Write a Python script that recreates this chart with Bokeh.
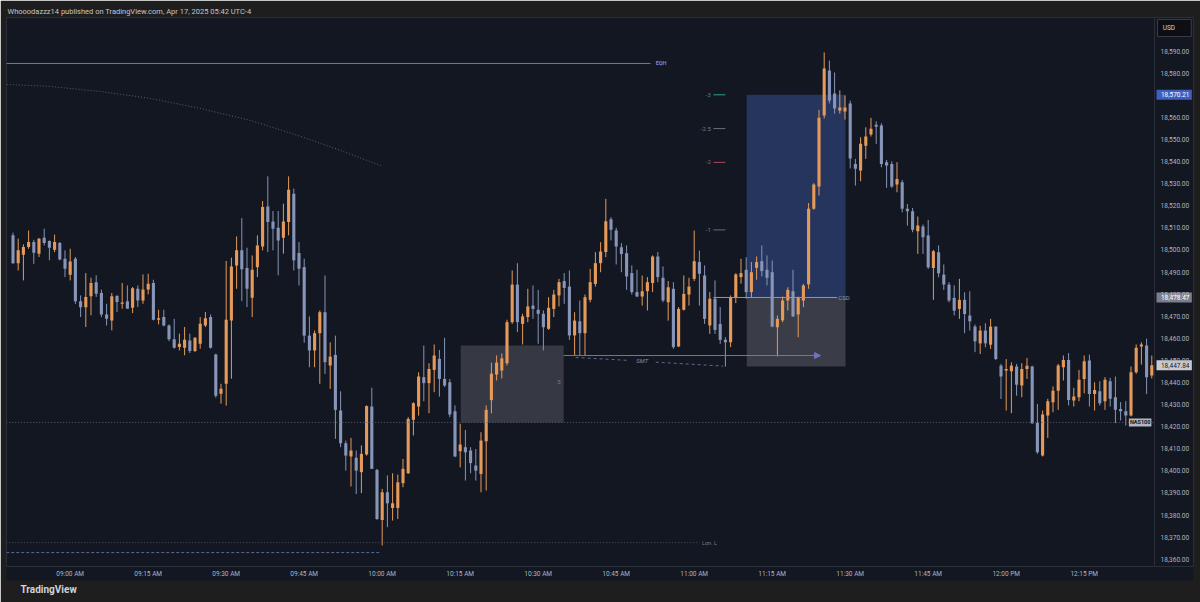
from bokeh.plotting import figure
from bokeh.models import (ColumnDataSource, Range1d, FixedTicker, NumeralTickFormatter,
                          Label, Arrow, NormalHead, Span, Title)
from bokeh.embed import file_html
from bokeh.resources import INLINE

# ---------------- data (1-minute NAS100 candles, first bar = 08:49) ----------------
opens = [18506.6, 18494.0, 18497.8, 18501.3, 18503.6, 18498.3, 18505.5, 18504.0, 18500.1, 18503.1,
         18496.0, 18488.8, 18496.0, 18476.8, 18474.1, 18479.0, 18485.4, 18480.5, 18470.8, 18468.1,
         18479.3, 18475.6, 18476.8, 18473.8, 18482.4, 18477.1, 18482.1, 18485.0, 18468.4, 18469.6,
         18465.8, 18459.6, 18456.0, 18455.7, 18459.0, 18454.2, 18457.5, 18465.8, 18469.6, 18452.7,
         18434.9, 18439.4, 18468.1, 18493.0, 18499.8, 18491.8, 18478.4, 18492.2, 18501.6, 18519.7,
         18512.9, 18510.0, 18505.5, 18512.6, 18525.4, 18498.6, 18492.2, 18461.2, 18454.5, 18462.3,
         18471.8, 18447.7, 18452.5, 18427.3, 18412.5, 18406.5, 18405.9, 18399.4, 18407.4, 18429.1,
         18400.4, 18377.8, 18390.3, 18383.2, 18383.2, 18394.4, 18398.9, 18423.1, 18429.1, 18442.4,
         18439.7, 18445.7, 18450.7, 18441.6, 18440.1, 18427.0, 18408.9, 18410.7, 18409.2, 18402.4,
         18398.6, 18413.4, 18432.0, 18443.6, 18445.4, 18448.7, 18467.3, 18484.3, 18466.5, 18469.6,
         18474.8, 18472.9, 18471.1, 18464.3, 18473.3, 18479.4, 18485.9, 18483.4, 18461.3, 18467.7,
         18462.3, 18477.4, 18484.6, 18494.0, 18499.0, 18513.9, 18508.8, 18501.2, 18498.5, 18489.5,
         18480.9, 18478.9, 18481.3, 18485.0, 18497.0, 18487.4, 18476.3, 18482.4, 18456.3, 18472.9,
         18479.8, 18486.9, 18494.5, 18488.4, 18465.8, 18477.9, 18466.5, 18459.3, 18458.2, 18478.6,
         18487.7, 18491.0, 18480.9, 18491.9, 18494.9, 18491.0, 18489.9, 18465.0, 18468.1, 18477.1,
         18481.3, 18470.8, 18477.1, 18484.4, 18518.6, 18528.7, 18560.8, 18581.2, 18570.8, 18563.1,
         18562.7, 18566.3, 18538.9, 18535.9, 18547.2, 18552.2, 18556.6, 18556.3, 18539.7, 18538.9,
         18529.6, 18530.6, 18518.6, 18517.5, 18508.4, 18510.6, 18506.5, 18491.8, 18498.9, 18488.8,
         18484.3, 18478.3, 18473.3, 18477.4, 18470.3, 18465.3, 18457.7, 18463.5, 18457.1, 18465.3,
         18447.6, 18445.4, 18445.1, 18447.2, 18438.6, 18446.1, 18447.2, 18421.6, 18406.9, 18425.0,
         18431.1, 18436.3, 18446.9, 18450.2, 18431.8, 18433.3, 18441.6, 18449.9, 18434.8, 18436.0,
         18431.5, 18440.6, 18433.3, 18428.0, 18427.0, 18425.0, 18444.6, 18456.3, 18456.7, 18443.2]
highs = [18507.8, 18505.1, 18502.5, 18508.8, 18504.6, 18505.4, 18509.6, 18504.3, 18506.9, 18503.6,
         18499.8, 18500.5, 18496.8, 18479.4, 18489.5, 18487.4, 18488.5, 18482.0, 18475.6, 18480.5,
         18479.3, 18485.0, 18483.9, 18483.2, 18483.9, 18488.9, 18489.2, 18486.5, 18472.9, 18472.9,
         18466.3, 18468.8, 18462.1, 18465.1, 18462.1, 18460.5, 18469.6, 18471.9, 18470.8, 18453.0,
         18439.4, 18495.0, 18496.5, 18506.1, 18514.4, 18501.0, 18497.5, 18506.6, 18522.1, 18533.3,
         18517.6, 18517.6, 18520.9, 18533.3, 18527.7, 18503.6, 18496.0, 18469.9, 18463.5, 18472.6,
         18488.4, 18458.2, 18461.2, 18436.0, 18413.7, 18414.9, 18409.2, 18411.5, 18429.6, 18437.6,
         18400.9, 18391.8, 18397.9, 18398.9, 18398.3, 18405.4, 18424.3, 18431.1, 18444.6, 18456.7,
         18448.7, 18457.2, 18454.7, 18460.2, 18441.6, 18429.6, 18421.3, 18418.5, 18410.7, 18409.9,
         18417.5, 18429.6, 18449.0, 18452.2, 18453.1, 18468.4, 18490.7, 18494.0, 18471.1, 18482.4,
         18483.9, 18481.9, 18472.6, 18478.6, 18481.9, 18486.9, 18489.5, 18490.7, 18471.8, 18477.1,
         18479.8, 18491.4, 18499.0, 18503.5, 18523.1, 18514.8, 18510.0, 18503.1, 18502.0, 18493.0,
         18491.0, 18488.4, 18487.7, 18497.5, 18499.0, 18492.5, 18485.9, 18485.4, 18474.1, 18488.4,
         18487.4, 18508.8, 18499.7, 18493.0, 18480.9, 18486.2, 18474.1, 18460.5, 18479.4, 18489.5,
         18496.0, 18496.7, 18494.5, 18497.0, 18502.0, 18497.5, 18495.2, 18470.3, 18478.9, 18483.1,
         18491.0, 18478.9, 18484.6, 18521.2, 18530.2, 18563.4, 18589.4, 18585.7, 18580.3, 18572.2,
         18569.9, 18567.6, 18541.2, 18551.0, 18555.5, 18559.8, 18558.2, 18557.3, 18540.7, 18540.1,
         18539.7, 18531.7, 18520.8, 18519.0, 18515.1, 18511.5, 18513.6, 18500.0, 18502.0, 18493.4,
         18485.4, 18483.9, 18486.9, 18480.8, 18481.3, 18466.2, 18465.7, 18466.8, 18468.8, 18465.3,
         18448.4, 18450.6, 18449.1, 18448.4, 18448.7, 18451.1, 18447.6, 18430.3, 18427.3, 18432.6,
         18438.2, 18448.4, 18452.2, 18453.3, 18437.6, 18445.7, 18452.2, 18452.6, 18440.1, 18440.6,
         18442.4, 18442.1, 18442.7, 18431.1, 18431.5, 18447.2, 18457.2, 18458.2, 18459.8, 18452.2]
lows = [18493.7, 18490.7, 18486.2, 18500.5, 18493.7, 18496.8, 18502.0, 18495.3, 18499.0, 18495.3,
        18487.7, 18486.2, 18475.6, 18469.6, 18465.1, 18470.4, 18478.7, 18469.6, 18465.8, 18463.6,
        18471.9, 18473.4, 18473.4, 18471.4, 18474.1, 18475.6, 18479.9, 18468.1, 18466.3, 18465.4,
        18458.7, 18455.3, 18454.5, 18452.3, 18453.3, 18453.8, 18455.3, 18465.1, 18455.3, 18433.1,
        18430.4, 18429.5, 18441.7, 18482.4, 18476.8, 18474.1, 18469.6, 18487.7, 18499.8, 18499.0,
        18499.8, 18488.5, 18498.3, 18506.6, 18490.7, 18483.9, 18458.0, 18446.9, 18446.9, 18439.4,
        18443.9, 18437.1, 18414.5, 18410.7, 18400.1, 18392.9, 18389.5, 18389.9, 18406.9, 18400.9,
        18377.8, 18366.2, 18374.5, 18377.5, 18378.2, 18392.6, 18398.6, 18416.0, 18425.0, 18431.5,
        18426.1, 18435.6, 18433.6, 18437.9, 18424.3, 18406.2, 18401.6, 18395.6, 18398.9, 18395.6,
        18390.3, 18391.1, 18426.0, 18440.9, 18441.8, 18447.7, 18466.5, 18462.8, 18457.2, 18467.3,
        18468.8, 18457.5, 18454.5, 18463.8, 18469.6, 18474.4, 18475.6, 18459.3, 18452.2, 18452.2,
        18452.2, 18476.3, 18483.4, 18489.9, 18496.7, 18504.3, 18493.4, 18489.9, 18481.9, 18479.8,
        18478.6, 18474.8, 18472.6, 18480.9, 18485.4, 18476.3, 18468.0, 18455.2, 18456.0, 18472.6,
        18474.8, 18485.9, 18474.8, 18466.5, 18462.0, 18462.0, 18457.5, 18447.2, 18456.0, 18475.9,
        18484.7, 18477.9, 18478.3, 18486.5, 18488.0, 18483.9, 18465.0, 18451.8, 18467.3, 18472.6,
        18469.6, 18460.5, 18474.1, 18482.4, 18518.2, 18524.6, 18559.5, 18566.3, 18561.7, 18561.7,
        18559.0, 18536.9, 18529.1, 18531.1, 18541.2, 18551.3, 18548.0, 18537.4, 18528.1, 18528.1,
        18526.1, 18517.0, 18511.0, 18508.0, 18498.2, 18498.2, 18491.4, 18477.4, 18487.6, 18481.9,
        18476.3, 18470.3, 18468.8, 18462.3, 18463.5, 18453.7, 18452.9, 18455.9, 18455.2, 18450.2,
        18432.5, 18427.3, 18426.1, 18434.0, 18433.3, 18441.6, 18421.2, 18407.7, 18406.5, 18414.9,
        18426.5, 18427.6, 18440.9, 18429.6, 18429.1, 18431.5, 18435.1, 18429.1, 18427.3, 18429.6,
        18427.6, 18429.1, 18421.6, 18422.8, 18420.5, 18424.6, 18443.9, 18448.1, 18434.8, 18441.8]
closes = [18494.0, 18499.8, 18501.3, 18503.6, 18498.7, 18505.1, 18503.1, 18501.0, 18503.6, 18495.7,
          18491.5, 18494.8, 18476.8, 18474.1, 18478.7, 18485.0, 18480.2, 18470.8, 18468.8, 18479.0,
          18476.4, 18476.2, 18473.4, 18482.6, 18477.1, 18482.1, 18484.7, 18468.4, 18469.1, 18465.8,
          18459.6, 18455.7, 18457.5, 18459.3, 18454.2, 18460.2, 18466.6, 18469.1, 18455.7, 18434.0,
          18437.2, 18468.4, 18492.5, 18499.8, 18491.2, 18482.4, 18491.0, 18502.0, 18519.4, 18512.6,
          18509.6, 18504.3, 18512.9, 18527.2, 18495.3, 18491.5, 18461.2, 18454.5, 18462.3, 18471.8,
          18449.2, 18451.7, 18427.6, 18412.5, 18406.9, 18409.2, 18400.1, 18407.7, 18429.3, 18400.9,
          18378.2, 18390.3, 18385.3, 18385.3, 18394.8, 18400.9, 18423.5, 18430.6, 18442.7, 18439.7,
          18446.1, 18452.2, 18441.6, 18438.6, 18425.5, 18406.5, 18411.9, 18408.4, 18403.5, 18400.1,
          18413.7, 18427.6, 18444.0, 18449.0, 18450.9, 18467.3, 18484.3, 18467.3, 18469.9, 18474.4,
          18473.3, 18471.1, 18465.0, 18473.8, 18479.8, 18485.4, 18482.8, 18461.3, 18468.0, 18462.3,
          18478.6, 18485.4, 18494.0, 18499.3, 18513.0, 18509.1, 18501.5, 18498.2, 18488.0, 18480.9,
          18478.9, 18481.3, 18485.4, 18497.0, 18487.7, 18477.1, 18483.1, 18456.0, 18473.3, 18480.1,
          18483.4, 18494.9, 18489.2, 18468.8, 18477.9, 18463.8, 18459.3, 18458.2, 18478.6, 18488.9,
          18489.5, 18480.9, 18489.9, 18494.5, 18490.4, 18487.4, 18465.3, 18468.8, 18477.1, 18481.9,
          18469.9, 18478.3, 18483.9, 18518.6, 18529.6, 18559.8, 18582.1, 18567.6, 18564.0, 18564.5,
          18564.5, 18541.4, 18536.7, 18548.0, 18551.3, 18554.8, 18555.8, 18538.9, 18538.2, 18528.7,
          18532.1, 18518.6, 18517.5, 18509.1, 18511.0, 18505.7, 18492.1, 18499.4, 18489.4, 18484.3,
          18477.1, 18472.5, 18477.4, 18471.0, 18467.7, 18458.6, 18463.5, 18457.7, 18465.3, 18450.6,
          18442.7, 18446.1, 18447.6, 18439.0, 18446.1, 18447.6, 18421.5, 18408.4, 18425.5, 18431.5,
          18436.3, 18447.7, 18450.2, 18432.1, 18433.6, 18441.2, 18449.6, 18434.8, 18436.6, 18430.6,
          18441.2, 18432.6, 18427.6, 18427.0, 18425.0, 18444.6, 18455.7, 18457.2, 18442.4, 18447.84]

time_labels = ["09:00 AM", "09:15 AM", "09:30 AM", "09:45 AM", "10:00 AM", "10:15 AM", "10:30 AM",
               "10:45 AM", "11:00 AM", "11:15 AM", "11:30 AM", "11:45 AM", "12:00 PM", "12:15 PM"]
time_label_bars = [11, 26, 41, 56, 71, 86, 101, 116, 131, 146, 161, 176, 191, 206]
price_ticks = list(range(18360, 18600, 10))

# drawn levels
eqh_price = 18584.4
csd_price = 18478.47
target_price = 18570.21
stop_price = 18447.2
last_price = 18447.84
nas_line_price = 18421.9
fvg_top, fvg_bottom = 18456.7, 18421.9
smt_price = 18452.2
smt_dash_prices = [18451.3, 18447.4]
lon_low_price = 18367.5
low_dash_price = 18363.0
fib_names = ["-1", "-2", "-2.5", "-3"]
fib_prices = [18509.05, 18539.63, 18554.92, 18570.21]
curve_bars = [-1.2, 7.2, 16.8, 26.4, 36.1, 45.7, 55.3, 63.0, 70.7]
curve_prices = [18574.9, 18574.0, 18571.7, 18568.6, 18564.0, 18558.6, 18551.4, 18545.0, 18538.2]

tag_texts = ["18,570.21", "18,478.47", "18,447.84"]
tag_prices = [target_price, csd_price, last_price]
tag_fills = ["#3f5fbf", "#7c7f89", "#c9cbd1"]
tag_text_colors = ["#ffffff", "#ffffff", "#131722"]

header_text = "Whooodazzz14 published on TradingView.com, Apr 17, 2025 05:42 UTC-4"

# ---------------- style ----------------
BG = "#131722"
FRAME = "#1e1e1e"
UP = "#e59a5a"
DOWN = "#8795b8"
TXT = "#b2b5be"
FONT = "Roboto"
AXIS_EDGE = 219.52          # bar-axis position of the price-scale separator
PRICE_PAD = 2.26            # half height of a price tag, in price units

n = len(opens)
bars = list(range(n))
colors = [UP if c >= o else DOWN for o, c in zip(opens, closes)]
tops = [max(o, c) for o, c in zip(opens, closes)]
bots = [min(o, c) for o, c in zip(opens, closes)]
tops = [t if t - b >= 0.35 else b + 0.35 for t, b in zip(tops, bots)]
src = ColumnDataSource(dict(x=bars, top=tops, bottom=bots, high=highs, low=lows, color=colors))

p = figure(width=1200, height=602, output_backend="svg", toolbar_location=None,
           x_range=Range1d(-1.25, 227.02), y_range=Range1d(18356.7, 18605.2),
           y_axis_location="right", min_border_left=6, min_border_right=7,
           min_border_top=17, min_border_bottom=36,
           background_fill_color=BG, border_fill_color=FRAME,
           outline_line_color="#2a2e39")
p.grid.visible = False

# header as the title
p.title.text = header_text
p.title.align = "left"
p.title.text_font_size = "7.5px"
p.title.text_font = FONT
p.title.text_font_style = "normal"
p.title.text_color = "#c3c6ce"
p.title.standoff = 4
p.title.offset = 1

# footer
p.add_layout(Title(text="TradingView", align="left", text_font_size="10px", text_font=FONT,
                   text_font_style="bold", text_color="#d1d4dc", standoff=2, offset=14), "below")

# axes
yax = p.yaxis[0]
yax.ticker = FixedTicker(ticks=price_ticks)
yax.formatter = NumeralTickFormatter(format="0,0.00")
yax.major_label_overrides = {18570: ""}
xax = p.xaxis[0]
xax.ticker = FixedTicker(ticks=time_label_bars)
xax.major_label_overrides = {b: t for b, t in zip(time_label_bars, time_labels)}
for ax in (xax, yax):
    ax.major_tick_line_color = None
    ax.minor_tick_line_color = None
    ax.major_tick_out = 0
    ax.major_tick_in = 0
    ax.axis_line_color = "#2a2e39"
    ax.major_label_text_color = TXT
    ax.major_label_text_font_size = "6.5px"
    ax.major_label_text_font = FONT
    if "background_fill_color" in ax.properties():
        ax.background_fill_color = BG
yax.major_label_standoff = -33
xax.major_label_standoff = 3

# price-scale separator
p.add_layout(Span(location=AXIS_EDGE, dimension="height", line_color="#2a2e39", line_width=1))

# boxes
p.quad(left=[86.1], right=[105.9], bottom=[fvg_bottom], top=[fvg_top],
       fill_color="#363943", line_color=None)
p.quad(left=[141.1], right=[160.1], bottom=[csd_price], top=[target_price],
       fill_color="#26355e", line_color=None)
p.quad(left=[141.1], right=[160.1], bottom=[stop_price], top=[csd_price],
       fill_color="#3a3d47", line_color=None)

# candles
p.segment(x0="x", y0="low", x1="x", y1="high", color="color", line_width=1, source=src)
p.vbar(x="x", width=0.6, top="top", bottom="bottom", fill_color="color", line_color=None, source=src)

# lines
p.line([-1.3, 122.6], [eqh_price, eqh_price], line_color="#6f74c8", line_width=1)
p.line(curve_bars, curve_prices, line_color="#5d606b", line_width=1, line_dash="1 2")
p.line([-1.3, AXIS_EDGE], [nas_line_price, nas_line_price], line_color="#5d606b",
       line_width=1, line_dash="1 2")
p.line([-1.3, 132.0], [lon_low_price, lon_low_price], line_color="#4f5360", line_width=1, line_dash="1 2")
p.line([-1.3, 70.7], [low_dash_price, low_dash_price], line_color="#5a6a98", line_width=1, line_dash="3 2")
p.line([134.7, 158.5], [csd_price, csd_price], line_color="#9598a1", line_width=1)
p.add_layout(Arrow(end=NormalHead(size=6, fill_color="#6d72c0", line_color="#6d72c0"),
                   x_start=105.9, y_start=smt_price, x_end=155.3, y_end=smt_price,
                   line_color="#6d72c0", line_width=1))
p.line([108.2, 118.3], [smt_dash_prices[0], 18450.0], line_color="#5d6a8e", line_width=1, line_dash="3 3")
p.line([123.6, 136.6], [18449.2, smt_dash_prices[1]], line_color="#5d6a8e", line_width=1, line_dash="3 3")

fib_line_colors = ["#6b6e78", "#b0455c", "#6b6e78", "#2f9e8c"]
fib_text_colors = ["#787b86", "#a05a6a", "#787b86", "#3f8f80"]
for nm, pr, lc, tc in zip(fib_names, fib_prices, fib_line_colors, fib_text_colors):
    p.line([134.7, 137.0], [pr, pr], line_color=lc, line_width=1)
    p.add_layout(Label(x=134.2, y=pr, text=nm, text_align="right", text_baseline="middle",
                       text_font_size="6px", text_color=tc, text_font=FONT))

def lab(x, y, text, size="6px", color="#787b86", align="left", baseline="middle", **kw):
    p.add_layout(Label(x=x, y=y, text=text, text_align=align, text_baseline=baseline,
                       text_font_size=size, text_color=color, text_font=FONT, **kw))

lab(123.6, eqh_price, "EQH", size="5.5px", color="#7d82d8", text_font_style="bold")
lab(158.7, csd_price, "CSD", color="#9598a1")
lab(121.0, 18449.9, "SMT", color="#7c8db5", align="center", text_font_style="italic")
lab(105.3, 18440.0, "5", align="right")
lab(132.5, lon_low_price, "Lon. L", size="5.5px")
lab(214.6, nas_line_price, "NAS100", size="5.5px", color="#131722", text_font_style="bold",
    background_fill_color="#b2b5be", padding=1)

# price tags on the price scale
p.quad(left=[219.9] * len(tag_prices), right=[226.7] * len(tag_prices),
       bottom=[v - PRICE_PAD for v in tag_prices], top=[v + PRICE_PAD for v in tag_prices],
       fill_color=tag_fills, line_color=None)
for t, v, c in zip(tag_texts, tag_prices, tag_text_colors):
    lab(220.75, v, t, size="6.5px", color=c)

# currency box
p.quad(left=[220.1], right=[226.6], bottom=[18596.6], top=[18604.3],
       fill_color="#0d0f14", line_color="#3a3d45", line_width=1)
lab(221.1, 18600.5, "USD", size="6.5px", color="#d1d4dc")

open("out.html", "w").write(file_html(p, INLINE))
